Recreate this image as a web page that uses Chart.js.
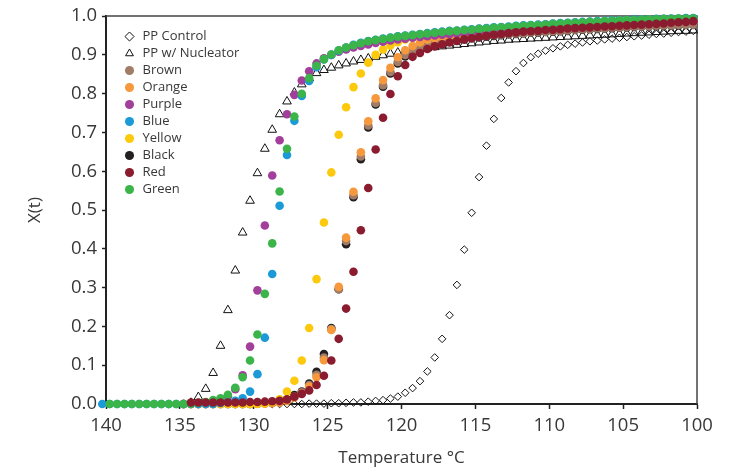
<!DOCTYPE html>
<html>
<head>
<meta charset="utf-8">
<script src="https://cdn.jsdelivr.net/npm/chart.js@4.4.1/dist/chart.umd.min.js"></script>
<style>
  html, body { margin: 0; padding: 0; background: #fff; }
  #wrap { width: 733px; height: 470px; }
</style>
</head>
<body>
<div id="wrap"><canvas id="c" width="733" height="470"></canvas></div>
<script>
// Crystallinity X(t) vs temperature, one reading every 0.5 °C (cooling 140 -> 100)
const temps = [
  140.25, 139.75, 139.25, 138.75, 138.25, 137.75, 137.25, 136.75, 136.25, 135.75,
  135.25, 134.75, 134.25, 133.75, 133.25, 132.75, 132.25, 131.75, 131.25, 130.75,
  130.25, 129.75, 129.25, 128.75, 128.25, 127.75, 127.25, 126.75, 126.25, 125.75,
  125.25, 124.75, 124.25, 123.75, 123.25, 122.75, 122.25, 121.75, 121.25, 120.75,
  120.25, 119.75, 119.25, 118.75, 118.25, 117.75, 117.25, 116.75, 116.25, 115.75,
  115.25, 114.75, 114.25, 113.75, 113.25, 112.75, 112.25, 111.75, 111.25, 110.75,
  110.25, 109.75, 109.25, 108.75, 108.25, 107.75, 107.25, 106.75, 106.25, 105.75,
  105.25, 104.75, 104.25, 103.75, 103.25, 102.75, 102.25, 101.75, 101.25, 100.75,
  100.25
];

const ppControl = [
  0, 0, 0, 0, 0, 0, 0, 0, 0, 0,
  0, 0, 0, 0, 0, 0, 0, 0, 0, 0,
  0, 0, 0, 0, 0, 0, 0, 0, 0.001, 0.001,
  0.001, 0.002, 0.002, 0.003, 0.004, 0.004, 0.006, 0.008, 0.010, 0.014,
  0.019, 0.029, 0.041, 0.059, 0.084, 0.120, 0.168, 0.229, 0.307, 0.398,
  0.493, 0.585, 0.666, 0.735, 0.789, 0.829, 0.858, 0.879, 0.894, 0.903,
  0.911, 0.917, 0.922, 0.926, 0.929, 0.932, 0.935, 0.937, 0.940, 0.942,
  0.944, 0.946, 0.948, 0.950, 0.952, 0.954, 0.955, 0.957, 0.959, 0.960,
  0.962
];

const ppNucleator = [
  null, null, null, null, null, null, null, null, null, null,
  null, null, 0.003, 0.018, 0.039, 0.080, 0.150, 0.242, 0.344, 0.442,
  0.524, 0.595, 0.658, 0.707, 0.747, 0.780, 0.803, 0.824, 0.840, 0.853,
  0.861, 0.867, 0.873, 0.878, 0.883, 0.887, 0.891, 0.895, 0.899, 0.903,
  0.906, 0.909, 0.912, 0.915, 0.917, 0.920, 0.922, 0.924, 0.926, 0.928,
  0.930, 0.932, 0.934, 0.936, 0.937, 0.939, 0.940, 0.941, 0.942, 0.943,
  0.944, 0.945, 0.946, 0.947, 0.948, 0.949, 0.950, 0.951, 0.952, 0.953,
  0.954, 0.955, 0.956, 0.957, 0.958, 0.959, 0.960, 0.961, 0.962, 0.962,
  0.963
];

const brown = [
  null, null, null, null, null, null, null, null, null, null,
  null, 0, 0, 0, 0, 0, 0, 0, 0, 0,
  0, 0.001, 0.002, 0.003, 0.005, 0.009, 0.019, 0.030, 0.049, 0.075,
  0.120, 0.193, 0.296, 0.420, 0.538, 0.638, 0.718, 0.776, 0.822, 0.856,
  0.882, 0.900, 0.910, 0.918, 0.924, 0.930, 0.934, 0.937, 0.940, 0.942,
  0.945, 0.947, 0.949, 0.951, 0.952, 0.954, 0.955, 0.956, 0.958, 0.959,
  0.960, 0.961, 0.962, 0.963, 0.965, 0.966, 0.967, 0.968, 0.969, 0.970,
  0.971, 0.972, 0.973, 0.974, 0.974, 0.975, 0.976, 0.976, 0.977, 0.978,
  0.978
];

const orange = [
  null, null, null, null, null, null, null, null, null, null,
  null, 0, 0, 0, 0, 0, 0, 0, 0, 0,
  0, 0, 0.001, 0.002, 0.004, 0.008, 0.017, 0.027, 0.045, 0.069,
  0.113, 0.191, 0.302, 0.429, 0.547, 0.649, 0.729, 0.788, 0.835, 0.867,
  0.894, 0.912, 0.923, 0.932, 0.939, 0.943, 0.946, 0.948, 0.950, 0.951,
  0.953, 0.954, 0.956, 0.957, 0.958, 0.959, 0.961, 0.962, 0.963, 0.964,
  0.966, 0.967, 0.968, 0.970, 0.971, 0.972, 0.973, 0.974, 0.975, 0.976,
  0.977, 0.978, 0.979, 0.980, 0.981, 0.982, 0.983, 0.984, 0.985, 0.986,
  0.987
];

const purple = [
  null, null, null, null, null, null, null, null, null, null,
  null, 0, 0.001, 0.002, 0.004, 0.007, 0.012, 0.020, 0.038, 0.074,
  0.148, 0.293, 0.460, 0.589, 0.680, 0.747, 0.797, 0.834, 0.858, 0.878,
  0.891, 0.900, 0.908, 0.914, 0.919, 0.923, 0.927, 0.931, 0.934, 0.937,
  0.940, 0.942, 0.944, 0.946, 0.948, 0.950, 0.952, 0.953, 0.955, 0.956,
  0.958, 0.959, 0.961, 0.962, 0.964, 0.965, 0.966, 0.967, 0.969, 0.970,
  0.971, 0.972, 0.973, 0.974, 0.975, 0.976, 0.977, 0.978, 0.979, 0.980,
  0.981, 0.982, 0.982, 0.983, 0.984, 0.984, 0.985, 0.986, 0.986, 0.987,
  0.987
];

const blue = [
  0, 0, 0, 0, 0, 0, 0, 0, 0, 0,
  0, 0, 0, 0, 0, 0, 0.003, 0.005, 0.008, 0.015,
  0.032, 0.077, 0.171, 0.335, 0.511, 0.642, 0.730, 0.794, 0.833, 0.868,
  0.888, 0.900, 0.911, 0.919, 0.926, 0.931, 0.936, 0.939, 0.942, 0.945,
  0.948, 0.950, 0.952, 0.954, 0.956, 0.958, 0.960, 0.962, 0.963, 0.965,
  0.966, 0.968, 0.969, 0.971, 0.972, 0.973, 0.975, 0.976, 0.977, 0.978,
  0.979, 0.981, 0.982, 0.983, 0.984, 0.985, 0.986, 0.987, 0.988, 0.989,
  0.990, 0.990, 0.991, 0.992, 0.992, 0.993, 0.993, 0.994, 0.994, 0.995,
  0.995
];

const yellow = [
  null, null, null, null, null, null, null, null, null, null,
  null, 0, 0, 0, 0, 0, 0, 0, 0, 0,
  0, 0.001, 0.002, 0.005, 0.012, 0.032, 0.060, 0.112, 0.196, 0.322,
  0.468, 0.597, 0.694, 0.765, 0.817, 0.852, 0.880, 0.900, 0.914, 0.924,
  0.933, 0.940, 0.944, 0.948, 0.951, 0.953, 0.955, 0.957, 0.959, 0.961,
  0.962, 0.964, 0.965, 0.967, 0.968, 0.969, 0.971, 0.972, 0.973, 0.974,
  0.975, 0.977, 0.978, 0.979, 0.980, 0.981, 0.982, 0.983, 0.984, 0.985,
  0.986, 0.987, 0.987, 0.988, 0.989, 0.989, 0.990, 0.990, 0.991, 0.991,
  0.992
];

const black = [
  null, null, null, null, null, null, null, null, null, null,
  null, 0, 0, 0, 0, 0, 0, 0, 0, 0,
  0, 0.001, 0.002, 0.003, 0.005, 0.010, 0.023, 0.032, 0.053, 0.083,
  0.129, 0.196, 0.296, 0.412, 0.533, 0.631, 0.713, 0.772, 0.818, 0.852,
  0.878, 0.896, 0.907, 0.915, 0.921, 0.927, 0.931, 0.935, 0.938, 0.940,
  0.943, 0.945, 0.947, 0.949, 0.951, 0.953, 0.954, 0.955, 0.957, 0.958,
  0.959, 0.960, 0.961, 0.962, 0.964, 0.965, 0.966, 0.967, 0.968, 0.969,
  0.970, 0.971, 0.972, 0.973, 0.973, 0.974, 0.975, 0.975, 0.976, 0.977,
  0.977
];

const red = [
  null, null, null, null, null, null, null, null, null, null,
  null, null, 0.004, 0.004, 0.004, 0.004, 0.004, 0.004, 0.004, 0.004,
  0.005, 0.005, 0.006, 0.007, 0.008, 0.012, 0.019, 0.026, 0.035, 0.049,
  0.073, 0.112, 0.168, 0.246, 0.341, 0.448, 0.557, 0.656, 0.738, 0.799,
  0.845, 0.874, 0.895, 0.905, 0.915, 0.922, 0.927, 0.932, 0.936, 0.940,
  0.943, 0.946, 0.949, 0.952, 0.954, 0.956, 0.958, 0.960, 0.961, 0.962,
  0.964, 0.965, 0.966, 0.968, 0.969, 0.970, 0.971, 0.972, 0.973, 0.974,
  0.975, 0.976, 0.977, 0.978, 0.979, 0.980, 0.981, 0.983, 0.984, 0.985,
  0.987
];

const green = [
  null, 0, 0, 0, 0, 0, 0, 0, 0, 0,
  0, 0, 0.001, 0.003, 0.005, 0.010, 0.015, 0.024, 0.042, 0.069,
  0.112, 0.179, 0.284, 0.414, 0.548, 0.658, 0.741, 0.800, 0.840, 0.872,
  0.889, 0.901, 0.912, 0.919, 0.925, 0.930, 0.935, 0.938, 0.941, 0.944,
  0.947, 0.949, 0.951, 0.953, 0.955, 0.957, 0.959, 0.961, 0.962, 0.964,
  0.965, 0.967, 0.968, 0.970, 0.971, 0.972, 0.974, 0.975, 0.976, 0.977,
  0.978, 0.980, 0.981, 0.982, 0.983, 0.984, 0.985, 0.986, 0.987, 0.988,
  0.989, 0.990, 0.990, 0.991, 0.992, 0.992, 0.993, 0.993, 0.994, 0.994,
  0.994
];

const xTicks = [140, 135, 130, 125, 120, 115, 110, 105, 100];
const yTicks = [0, 0.1, 0.2, 0.3, 0.4, 0.5, 0.6, 0.7, 0.8, 0.9, 1.0];

// pair each reading with its temperature, dropping the gaps
const pts = vals => temps.map((t, i) => ({ x: t, y: vals[i] })).filter(p => p.y !== null);

const INK = '#383838';

function dots(label, vals, color, order) {
  return {
    label, data: pts(vals), order,
    backgroundColor: color, borderColor: color, borderWidth: 0,
    pointStyle: 'circle', pointRadius: 4.3, clip: false,
  };
}

const datasets = [
  { label: 'PP Control', data: pts(ppControl), order: 10, pointStyle: 'rectRot', pointRadius: 3.8,
    backgroundColor: 'rgba(255,255,255,0)', borderColor: '#111', borderWidth: 1, clip: false },
  { label: 'PP w/ Nucleator', data: pts(ppNucleator), order: 9, pointStyle: 'triangle', pointRadius: 5,
    backgroundColor: 'rgba(255,255,255,0)', borderColor: '#111', borderWidth: 1, clip: false },
  dots('Brown',  brown,  '#a17c66', 7),
  dots('Orange', orange, '#f6983c', 6),
  dots('Purple', purple, '#a23f9b', 4),
  dots('Blue',   blue,   '#1b9ad7', 3),
  dots('Yellow', yellow, '#fdc90d', 5),
  dots('Black',  black,  '#231f20', 8),
  dots('Red',    red,    '#8b1b2f', 1),
  dots('Green',  green,  '#3bb44a', 2),
];

// thin top/right edges of the plot box
const frame = {
  id: 'frame',
  beforeDatasetsDraw(chart) {
    const { ctx, chartArea: a } = chart;
    ctx.save();
    ctx.strokeStyle = '#444';
    ctx.lineWidth = 1.5;
    ctx.beginPath();
    ctx.moveTo(a.left, a.top);
    ctx.lineTo(a.right, a.top);
    ctx.lineTo(a.right, a.bottom);
    ctx.stroke();
    ctx.restore();
  }
};

// legend sits inside the plot, top-left
const legendSpot = {
  id: 'legendSpot',
  afterLayout(chart) {
    chart.legend.left = 119;
    chart.legend.top = 26;
  }
};

Chart.defaults.font.family = "'Open Sans', sans-serif";
Chart.defaults.color = INK;

new Chart(document.getElementById('c'), {
  type: 'scatter',
  data: { datasets },
  plugins: [frame, legendSpot],
  options: {
    responsive: false, animation: false,
    layout: { padding: { top: 16, right: 36, left: 0, bottom: 0 } },
    scales: {
      x: {
        type: 'linear', reverse: true, min: 100, max: 140,
        afterBuildTicks: s => { s.ticks = xTicks.map(v => ({ value: v })); },
        afterFit: s => { s.height = 66; },
        border: { color: '#222', width: 2 },
        grid: { drawOnChartArea: false, tickLength: 5, tickColor: '#222', tickWidth: 1.5 },
        ticks: { font: { size: 18.5 }, color: INK, padding: 6 },
        title: { display: true, text: 'Temperature °C', font: { size: 17 }, color: INK, padding: { bottom: 2, top: 0 } },
      },
      y: {
        type: 'linear', min: 0, max: 1,
        afterBuildTicks: s => { s.ticks = yTicks.map(v => ({ value: v })); },
        afterFit: s => { s.width = 106; },
        border: { color: '#222', width: 2 },
        grid: { drawOnChartArea: false, tickLength: 4, tickColor: '#222', tickWidth: 1.5 },
        ticks: { font: { size: 18.5 }, color: INK, padding: 5, callback: v => v.toFixed(1) },
        title: { display: true, text: 'X(t)', font: { size: 17 }, color: INK, padding: { top: 25, bottom: 0 } },
      }
    },
    plugins: {
      legend: {
        position: 'chartArea', align: 'start',
        labels: {
          usePointStyle: true, boxWidth: 13, boxHeight: 6.4, padding: 4,
          font: { size: 13 }, color: INK,
          sort: (a, b) => a.datasetIndex - b.datasetIndex,
        }
      },
      tooltip: { enabled: false },
    }
  }
});
</script>
</body>
</html>
